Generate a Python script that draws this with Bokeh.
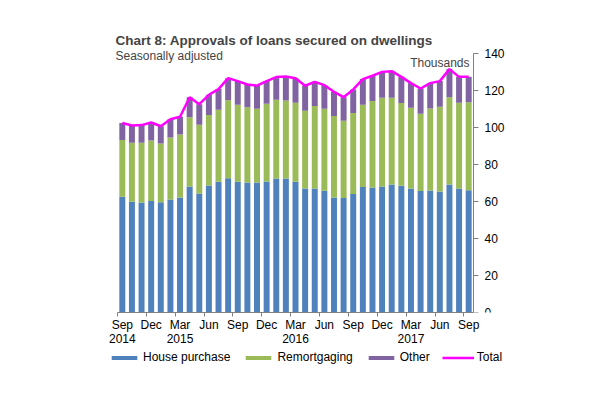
from bokeh.plotting import figure
from bokeh.layouts import column
from bokeh.models import (ColumnDataSource, Range1d, FixedTicker, Label, Legend, LegendItem)
from bokeh.embed import file_html
from bokeh.resources import INLINE

months = ["Sep 2014", "Oct 2014", "Nov 2014", "Dec 2014", "Jan 2015", "Feb 2015", "Mar 2015",
          "Apr 2015", "May 2015", "Jun 2015", "Jul 2015", "Aug 2015", "Sep 2015", "Oct 2015",
          "Nov 2015", "Dec 2015", "Jan 2016", "Feb 2016", "Mar 2016", "Apr 2016", "May 2016",
          "Jun 2016", "Jul 2016", "Aug 2016", "Sep 2016", "Oct 2016", "Nov 2016", "Dec 2016",
          "Jan 2017", "Feb 2017", "Mar 2017", "Apr 2017", "May 2017", "Jun 2017", "Jul 2017",
          "Aug 2017", "Sep 2017"]

house_purchase = [62.6, 59.9, 59.5, 60.3, 59.7, 61.2, 62.2, 68.2, 64.4, 68.7, 70.7, 72.7, 70.7,
                  70.3, 70.3, 70.9, 72.5, 72.5, 70.7, 67.1, 67.1, 65.9, 62.2, 61.9, 64.1, 67.9,
                  67.7, 68.2, 69.3, 68.6, 67.1, 65.7, 66.0, 65.5, 69.3, 67.1, 66.2]
remortgaging = [30.7, 31.9, 32.3, 32.8, 31.8, 33.5, 34.1, 37.5, 37.2, 38.1, 39.0, 42.2, 41.7,
                40.7, 39.9, 42.0, 42.6, 42.2, 42.8, 42.0, 44.6, 44.3, 44.1, 41.8, 43.8, 44.5,
                46.7, 48.0, 46.9, 44.7, 43.7, 41.8, 44.4, 45.8, 47.2, 46.4, 47.6]
other = [9.2, 9.4, 9.6, 9.7, 9.3, 9.9, 9.6, 10.8, 11.1, 11.0, 11.2, 11.9, 12.8,
         12.4, 12.5, 12.3, 12.3, 13.0, 13.3, 13.6, 13.1, 12.8, 13.1, 12.8, 12.8, 13.9,
         13.7, 14.0, 14.4, 14.2, 13.3, 13.7, 13.7, 13.9, 15.2, 14.0, 13.7]
total = [102.5, 101.2, 101.4, 102.8, 100.8, 104.6, 105.9, 116.5, 112.7, 117.8, 120.9, 126.8, 125.2,
         123.4, 122.7, 125.2, 127.4, 127.7, 126.8, 122.7, 124.8, 123.0, 119.4, 116.5, 120.7, 126.3,
         128.1, 130.2, 130.6, 127.5, 124.1, 121.2, 124.1, 125.2, 131.7, 127.5, 127.5]

series_names = ["House purchase", "Remortgaging", "Other", "Total"]
tick_labels = {0: "Sep\n2014", 3: "Dec", 6: "Mar\n2015", 9: "Jun", 12: "Sep", 15: "Dec",
               18: "Mar\n2016", 21: "Jun", 24: "Sep", 27: "Dec", 30: "Mar\n2017", 33: "Jun", 36: "Sep"}
y_ticks = [0, 20, 40, 60, 80, 100, 120, 140]

FONT = "Liberation Sans"
BLUE, GREEN, PURPLE, MAGENTA = "#4F81BD", "#9BBB59", "#8064A2", "#FF00FF"

n = len(months)
xs = list(range(n))
src = ColumnDataSource(dict(x=xs, month=months, house=house_purchase, remort=remortgaging,
                            other=other, total=total))

# frame spans 100..505 px; the bar area (categories) spans 117..473 px
px_per_cat = 356 / n
x_lo = -0.5 - 17 / px_per_cat
x_hi = (n - 0.5) + 32 / px_per_cat

p = figure(frame_width=405, frame_height=292, x_range=Range1d(x_lo, x_hi), y_range=Range1d(0, 158),
           output_backend="svg", toolbar_location=None, y_axis_location="right",
           min_border_left=100, min_border_right=72, min_border_top=20, min_border_bottom=0)
p.outline_line_color = None
p.xgrid.visible = False
p.ygrid.visible = False

bars = p.vbar_stack(["house", "remort", "other"], x="x", width=0.62, source=src,
                    fill_color=[BLUE, GREEN, PURPLE], line_color=None)
tl = p.line("x", "total", source=src, line_color=MAGENTA, line_width=2.5)

# x axis
xa = p.xaxis[0]
major = sorted(tick_labels.keys())
xa.ticker = FixedTicker(ticks=major, minor_ticks=[m - 0.5 for m in major])
xa.bounds = (-0.5, n - 0.5)
xa.major_label_overrides = {k: v for k, v in tick_labels.items()}
xa.major_tick_line_color = None
xa.major_tick_in = 0
xa.major_tick_out = 0
xa.minor_tick_line_color = "#808080"
xa.minor_tick_in = 0
xa.minor_tick_out = 4
xa.axis_line_color = "#808080"
xa.major_label_text_font = FONT
xa.major_label_text_font_size = "12px"
xa.major_label_text_color = "black"
xa.major_label_text_line_height = 1.05
xa.major_label_standoff = 1

# y axis (drawn at the right edge of the bar area)
ya = p.yaxis[0]
ya.fixed_location = n - 0.5
ya.ticker = FixedTicker(ticks=y_ticks)
ya.bounds = (0, 140)
ya.minor_tick_line_color = None
ya.major_tick_line_color = "#808080"
ya.major_tick_in = 0
ya.major_tick_out = 5
ya.axis_line_color = "#808080"
ya.major_label_text_font = FONT
ya.major_label_text_font_size = "12px"
ya.major_label_text_color = "black"
ya.major_label_standoff = 6

p.add_layout(Label(x=15, y=272, x_units="screen", y_units="screen",
                   text="Chart 8: Approvals of loans secured on dwellings",
                   text_font=FONT, text_font_size="13.5px", text_font_style="bold",
                   text_baseline="middle", text_align="left"))
p.add_layout(Label(x=15, y=257, x_units="screen", y_units="screen", text="Seasonally adjusted",
                   text_font=FONT, text_font_size="12px", text_baseline="middle", text_align="left"))
p.add_layout(Label(x=369, y=250, x_units="screen", y_units="screen", text="Thousands",
                   text_font=FONT, text_font_size="12px", text_baseline="middle", text_align="right"))

# legend strip: a second figure whose renderers use the same data but lie far out of view
q = figure(width=577, height=40, x_range=Range1d(5000, 5001), y_range=Range1d(5000, 5001),
           output_backend="svg", toolbar_location=None, x_axis_location=None, y_axis_location=None,
           min_border=0)
q.outline_line_color = None
q.xgrid.visible = False
q.ygrid.visible = False
lbars = q.vbar_stack(["house", "remort", "other"], x="x", width=0.62, source=src,
                     fill_color=[BLUE, GREEN, PURPLE], line_color=None)
lline = q.line("x", "total", source=src, line_color=MAGENTA, line_width=2.5)
legend = Legend(items=[LegendItem(label=nm, renderers=[r]) for nm, r in zip(series_names, list(lbars) + [lline])],
                orientation="horizontal", location=(8, 25), border_line_color=None,
                background_fill_alpha=0, label_text_font=FONT, label_text_font_size="12px",
                label_text_color="black",
                glyph_width=32, glyph_height=5, label_standoff=3, spacing=12, padding=0,
                margin=0, label_height=12)
q.add_layout(legend, "center")

open("out.html", "w").write(file_html(column(p, q, spacing=0), INLINE))
